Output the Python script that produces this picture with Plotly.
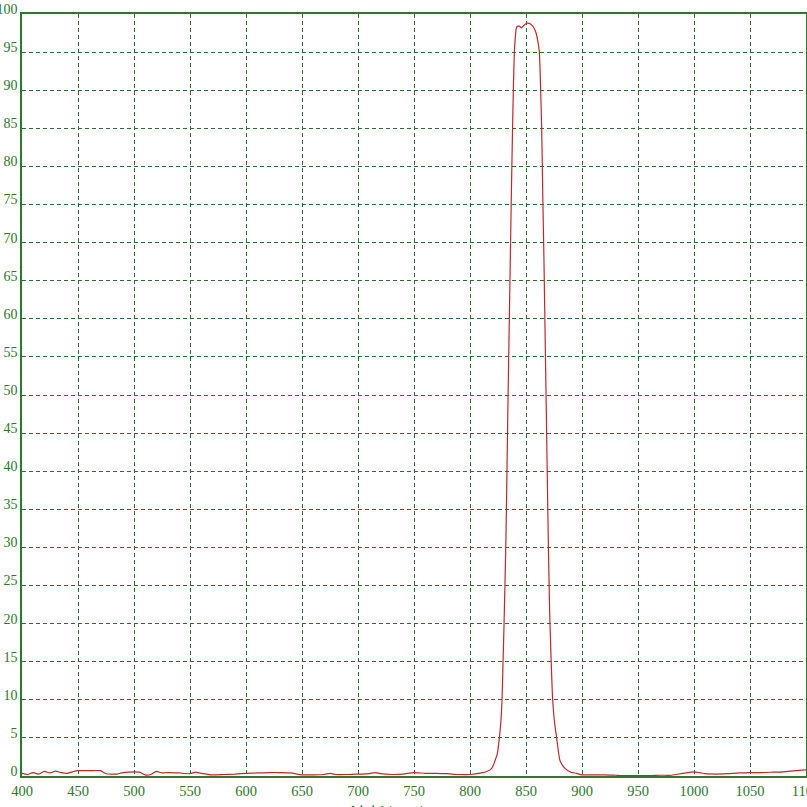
import plotly.graph_objects as go

wavelength = [400, 405, 410, 415, 420, 425, 430, 435, 440, 445, 450, 460, 470, 475, 485, 490, 500, 505, 510, 515,
              520, 525, 530, 540, 550, 555, 560, 570, 580, 590, 600, 610, 620, 630, 640, 650, 660, 670, 675, 680,
              690, 700, 710, 715, 720, 730, 740, 750, 760, 770, 780, 790, 800, 810, 815, 819.4, 822.3, 824.5, 826.2,
              827.5, 828.6, 829.5, 830.4, 832, 833, 834, 835, 836, 837, 838, 838.7, 839.6, 840.5, 841.7, 844, 846,
              848, 851, 854, 857, 859, 860.5, 861.9, 863.1, 864, 865, 866, 867, 868, 869, 870, 871, 871.4, 872.5,
              873.8, 875.5, 877.4, 880.4, 884.8, 890, 895, 900, 910, 920, 930, 940, 950, 960, 970, 980, 990, 1000,
              1005, 1010, 1020, 1030, 1040, 1050, 1060, 1070, 1080, 1090, 1100]
transmittance = [0.35, 0.2, 0.45, 0.25, 0.6, 0.4, 0.65, 0.45, 0.35, 0.55, 0.7, 0.7, 0.7, 0.3, 0.25, 0.45, 0.55, 0.5,
                 0.15, 0.2, 0.6, 0.4, 0.45, 0.4, 0.3, 0.5, 0.35, 0.15, 0.2, 0.25, 0.35, 0.4, 0.45, 0.45, 0.4, 0.15,
                 0.15, 0.2, 0.35, 0.2, 0.2, 0.25, 0.3, 0.45, 0.3, 0.2, 0.25, 0.45, 0.35, 0.35, 0.3, 0.2, 0.2, 0.4, 0.6,
                 1.0, 2.0, 3.0, 5.0, 7.0, 10.0, 15.0, 20.0, 30.5, 40.0, 50.0, 59.0, 68.0, 77.0, 85.0, 90.0, 95.0, 97.0,
                 98.3, 98.4, 98.2, 98.5, 98.8, 98.7, 98.2, 97.5, 96.5, 95.0, 90.0, 85.0, 76.0, 68.0, 58.5, 49.0, 39.5,
                 30.0, 22.5, 20.0, 15.0, 10.0, 7.0, 5.0, 2.0, 1.0, 0.5, 0.35, 0.15, 0.15, 0.15, 0.1, 0.05, 0.05, 0.05,
                 0.1, 0.1, 0.35, 0.55, 0.45, 0.3, 0.25, 0.3, 0.4, 0.45, 0.45, 0.5, 0.55, 0.7, 0.8]

x_ticks = list(range(400, 1101, 50))
y_ticks = list(range(0, 101, 5))
x_title = "波长(nm)"

GREEN = "#2a7a2a"
GRID = "#2f6b2f"

fig = go.Figure()
fig.add_trace(go.Scatter(x=wavelength, y=transmittance, mode="lines", line_shape="spline",
                         line=dict(color="#c0282c", width=1.2, smoothing=0.6), hoverinfo="skip"))

axis_common = dict(showgrid=True, gridcolor=GRID, gridwidth=1, griddash="4px,3px",
                   showline=True, linecolor=GREEN, linewidth=1.5, mirror=True,
                   zeroline=False, ticks="", ticklabeloverflow="allow", automargin=False)

fig.update_xaxes(range=[400, 1100], tickmode="array", tickvals=x_ticks,
                 ticktext=[str(v) for v in x_ticks], ticklabelstandoff=1,
                 tickfont=dict(family="Liberation Serif", size=14.5, color=GREEN), **axis_common)
fig.update_yaxes(range=[0, 100], tickmode="array", tickvals=y_ticks,
                 ticktext=[str(v) for v in y_ticks], ticklabelshift=-5, ticklabelstandoff=0,
                 tickfont=dict(family="Liberation Serif", size=14, color=GREEN), **axis_common)

fig.add_annotation(text=x_title, xref="paper", yref="paper", x=0.467, y=-0.029,
                   xanchor="center", yanchor="top", showarrow=False,
                   font=dict(family="Noto Sans CJK SC", size=18, color=GREEN))

fig.update_layout(width=807, height=807, margin=dict(l=22, r=1, t=14, b=31, autoexpand=False),
                  paper_bgcolor="white", plot_bgcolor="white", showlegend=False)

fig.write_html("out.html", config={"displayModeBar": False},
               post_script="document.body.style.margin='0';document.body.style.overflow='hidden';")
